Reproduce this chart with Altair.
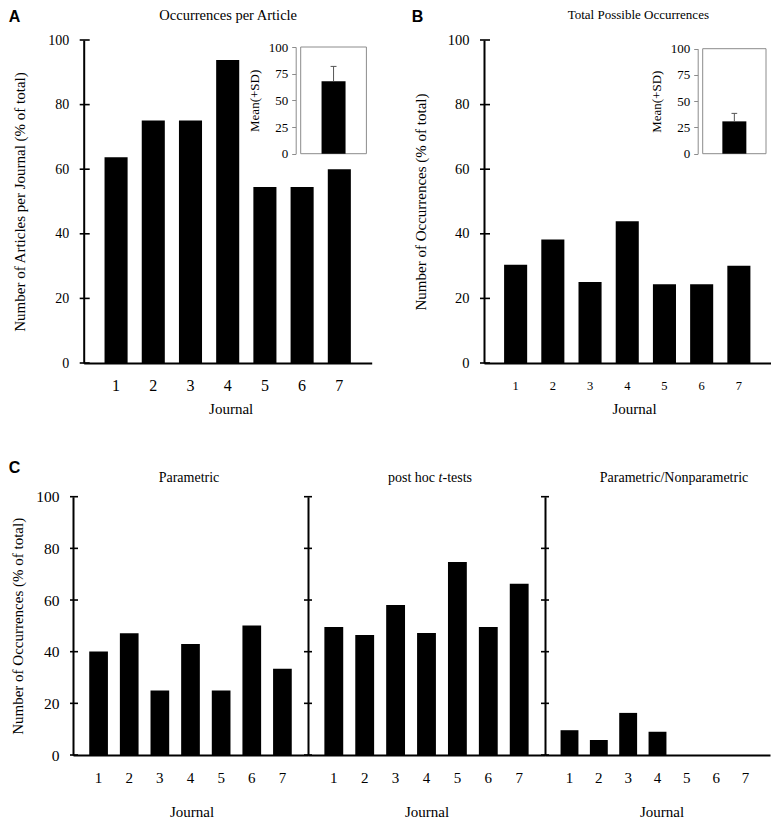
import altair as alt
import pandas as pd

SERIF = "Liberation Serif"
SANS = "Liberation Sans"

journals = ["1", "2", "3", "4", "5", "6", "7"]
a_vals = [63.7, 75.1, 75.1, 93.8, 54.5, 54.5, 60.0]
b_vals = [30.4, 38.2, 25.1, 43.9, 24.4, 24.4, 30.1]
c1_vals = [40.1, 47.1, 25.0, 43.0, 25.0, 50.1, 33.4]
c2_vals = [49.6, 46.5, 58.1, 47.2, 74.7, 49.6, 66.3]
c3_vals = [9.6, 5.8, 16.3, 9.0, 0.0, 0.0, 0.0]
a_mean, a_sd = 67.8, 14.0
b_mean, b_sd = 30.8, 7.6
y_ticks = [0, 20, 40, 60, 80, 100]
inset_ticks = [0, 25, 50, 75, 100]

titles = {
    "A": "Occurrences per Article",
    "B": "Total Possible Occurrences",
    "C1": "Parametric",
    "C3": "Parametric/Nonparametric",
}
c2_title_parts = ["post hoc ", "t", "-tests"]
ytitles = {
    "A": "Number of Articles per Journal (% of total)",
    "B": "Number of Occurrences (% of total)",
    "C": "Number of Occurrences (% of total)",
}
xtitle = "Journal"
inset_title = "Mean(+SD)"


def text_layer(s, x, y, size, font=SERIF, weight="normal", align="center", style="normal"):
    return alt.Chart(pd.DataFrame({"label": [s]})).mark_text(
        font=font, fontSize=size, fontWeight=weight, fontStyle=style,
        align=align, baseline="alphabetic", color="black"
    ).encode(text="label:N", x=alt.value(x), y=alt.value(y))


def main_layers(vals, height, *, xlab_size, ylab_size, show_ylabels, ytitle, ytitle_x,
                xtitle_x, xtitle_y, xlab_pad, ylab_pad, tick_l, tick_r, pi, po,
                x_range=None, y_off=0):
    df = pd.DataFrame({"journal": journals, "value": vals})
    ax_kw = dict(values=y_ticks, ticks=False, grid=False, domainColor="black", domainWidth=2,
                 labels=show_ylabels, labelFont=SERIF, labelFontSize=ylab_size,
                 labelColor="black", labelPadding=ylab_pad)
    if y_off:
        ax_kw.update(offset=-y_off)
    if ytitle:
        ax_kw.update(title=ytitle, titleFont=SERIF, titleFontSize=15, titleFontWeight="normal",
                     titleColor="black", titleAngle=270, titleAlign="center",
                     titleBaseline="middle", titleX=ytitle_x, titleY=height / 2)
    else:
        ax_kw.update(title=None)
    yaxis = alt.Axis(**ax_kw)
    yscale = alt.Scale(domain=[0, 100], nice=False)
    xs_kw = dict(paddingInner=pi, paddingOuter=po)
    if x_range:
        xs_kw.update(range=x_range)
    xaxis = alt.Axis(labelAngle=0, ticks=False, domainColor="black", domainWidth=2,
                     labelFont=SERIF, labelFontSize=xlab_size, labelColor="black",
                     labelPadding=xlab_pad, labelBaseline="alphabetic",
                     title=xtitle, titleFont=SERIF, titleFontSize=15, titleFontWeight="normal",
                     titleColor="black", titleX=xtitle_x, titleY=xtitle_y,
                     titleBaseline="alphabetic", titleAlign="center")
    bars = alt.Chart(df).mark_bar(color="black").encode(
        x=alt.X("journal:N", sort=journals, scale=alt.Scale(**xs_kw), axis=xaxis),
        y=alt.Y("value:Q", scale=yscale, axis=yaxis),
    )
    ticks = alt.Chart(pd.DataFrame({"value": y_ticks})).mark_rule(
        color="black", strokeWidth=1.6
    ).encode(y=alt.Y("value:Q", scale=yscale, axis=yaxis),
             x=alt.value(y_off - tick_l), x2=alt.value(y_off + tick_r))
    return [bars, ticks]


def inset_layers(mean, sd, rng_x, rng_y):
    xs = alt.Scale(domain=[0, 1], range=rng_x)
    ys = alt.Scale(domain=[0, 100], range=rng_y, nice=False)
    grey = "#8c8c8c"
    yax = alt.Axis(orient="left", offset=-rng_x[0], values=inset_ticks, grid=False,
                   domainColor=grey, tickColor=grey, tickSize=4, labelFont=SERIF,
                   labelFontSize=13, labelColor="black", labelPadding=4,
                   title=inset_title, titleFont=SERIF, titleFontSize=13,
                   titleFontWeight="normal", titleColor="black", titleX=-41,
                   titleY=(rng_y[0] + rng_y[1]) / 2, titleAngle=270, titleAlign="center",
                   titleBaseline="middle")
    frame = alt.Chart(pd.DataFrame({"x0": [0.0], "x1": [1.0], "y0": [0.0], "y1": [100.0]})).mark_rect(
        fillOpacity=0, stroke=grey, strokeWidth=1
    ).encode(x=alt.X("x0:Q", scale=xs, axis=None), x2="x1:Q",
             y=alt.Y("y0:Q", scale=ys, axis=yax), y2="y1:Q")
    df = pd.DataFrame({"pos": [0.5], "mean": [mean], "upper": [mean + sd],
                       "cap_lo": [0.455], "cap_hi": [0.545]})
    bar = alt.Chart(df).mark_bar(size=24, color="black", orient="vertical").encode(
        x=alt.X("pos:Q", scale=xs, axis=None), y=alt.Y("mean:Q", scale=ys, axis=yax))
    err = alt.Chart(df).mark_rule(color="#555555", strokeWidth=1).encode(
        x=alt.X("pos:Q", scale=xs, axis=None), y=alt.Y("mean:Q", scale=ys, axis=yax), y2="upper:Q")
    cap = alt.Chart(df).mark_rule(color="#555555", strokeWidth=1).encode(
        x=alt.X("cap_lo:Q", scale=xs, axis=None), x2="cap_hi:Q",
        y=alt.Y("upper:Q", scale=ys, axis=yax))
    return alt.layer(frame, bar, err, cap)


# ---------- Panel A (origin aligned with panel C1; A's own axis shifted right) ----------
DX = 10.7
A_H = 323
A_main = alt.layer(
    *main_layers(a_vals, A_H, xlab_size=16, ylab_size=14, show_ylabels=True, ytitle=ytitles["A"],
                 ytitle_x=-64, xtitle_x=147 + DX, xtitle_y=50.6, xlab_pad=27.3, ylab_pad=15,
                 tick_l=4, tick_r=6, pi=0.38, po=0.56, x_range=[DX, DX + 288], y_off=DX),
    text_layer(titles["A"], 144.5 + DX, -20, 14.5),
    text_layer("A", -64.3, -18.5, 16, font=SANS, weight="bold", align="left"),
)
A = alt.layer(A_main, inset_layers(a_mean, a_sd, [212 + DX, 287.7 + DX], [113.7, 7])).resolve_scale(
    x="independent", y="independent").properties(width=288 + DX, height=A_H)

# ---------- Panel B ----------
B_W = 286.5
B_main = alt.layer(
    *main_layers(b_vals, A_H, xlab_size=12.5, ylab_size=14.5, show_ylabels=True, ytitle=ytitles["B"],
                 ytitle_x=-64, xtitle_x=150, xtitle_y=50.6, xlab_pad=26.3, ylab_pad=15,
                 tick_l=4, tick_r=6, pi=0.38, po=0.54),
    text_layer(titles["B"], 154.3, -21, 13),
    text_layer("B", -72.3, -18.5, 16, font=SANS, weight="bold", align="left"),
)
B = alt.layer(B_main, inset_layers(b_mean, b_sd, [213.7, 287], [113.7, 8.7])).resolve_scale(
    x="independent", y="independent").properties(width=B_W, height=A_H)

# ---------- Panel C ----------
C_H = 258.3
C1 = alt.layer(
    *main_layers(c1_vals, C_H, xlab_size=15, ylab_size=15.5, show_ylabels=True, ytitle=ytitles["C"],
                 ytitle_x=-56, xtitle_x=118.5, xtitle_y=61.6, xlab_pad=27.3, ylab_pad=14,
                 tick_l=3, tick_r=5, pi=0.39, po=0.53),
    text_layer(titles["C1"], 116, -15, 14),
    text_layer("C", -64.3, -23.4, 16, font=SANS, weight="bold", align="left"),
).properties(width=235, height=C_H)

C2 = alt.layer(
    *main_layers(c2_vals, C_H, xlab_size=15, ylab_size=15.5, show_ylabels=False, ytitle=None,
                 ytitle_x=0, xtitle_x=118.5, xtitle_y=61.6, xlab_pad=27.3, ylab_pad=14,
                 tick_l=4, tick_r=4, pi=0.39, po=0.53),
    text_layer(c2_title_parts[0], 80, -15, 14, align="left"),
    text_layer(c2_title_parts[1], 130.6, -15, 14, align="left", style="italic"),
    text_layer(c2_title_parts[2], 134.5, -15, 14, align="left"),
).properties(width=237, height=C_H)

C3 = alt.layer(
    *main_layers(c3_vals, C_H, xlab_size=15, ylab_size=15.5, show_ylabels=False, ytitle=None,
                 ytitle_x=0, xtitle_x=116.5, xtitle_y=61.6, xlab_pad=27.3, ylab_pad=14,
                 tick_l=4, tick_r=4, pi=0.39, po=0.53),
    text_layer(titles["C3"], 129, -15, 14),
).properties(width=225, height=C_H)

top = alt.hconcat(A, B, spacing=112, bounds="flush")
bottom = alt.hconcat(C1, C2, C3, spacing=0, bounds="flush")

chart = alt.vconcat(top, bottom, spacing=42.7).configure_view(stroke=None).properties(padding=0)

chart.save("out.html", embed_options={"renderer": "svg", "actions": False})
